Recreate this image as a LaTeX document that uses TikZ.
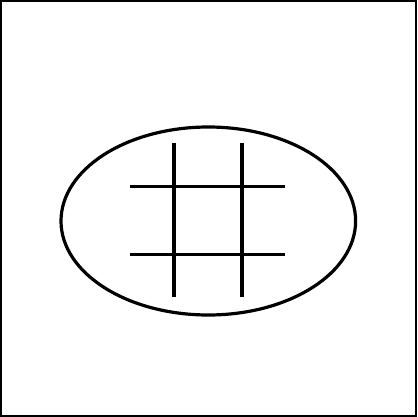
\documentclass[tikz,border=0pt]{standalone}
\begin{document}
\begin{tikzpicture}[x=1pt,y=-1pt,
  frame/.style={draw=black,line width=2pt},
  outline/.style={draw=black,line width=3.2pt},
  gridline/.style={draw=black,line width=3.2pt}]
\useasboundingbox (0,0) rectangle (417,417);
\fill[white] (0,0) rectangle (417,417);
\draw[frame] (1,1) rectangle (416,416);
\draw[outline] (208.3,221) ellipse [x radius=147.3, y radius=94];
\coordinate (v1t) at (174,143.3); \coordinate (v1b) at (174,297.3);
\coordinate (v2t) at (242,143.3); \coordinate (v2b) at (242,297.3);
\coordinate (h1l) at (130.3,186.3); \coordinate (h1r) at (285,186.3);
\coordinate (h2l) at (130.3,254.3); \coordinate (h2r) at (285,254.3);
\draw[gridline] (v1t) -- (v1b);
\draw[gridline] (v2t) -- (v2b);
\draw[gridline] (h1l) -- (h1r);
\draw[gridline] (h2l) -- (h2r);
\end{tikzpicture}
\end{document}
